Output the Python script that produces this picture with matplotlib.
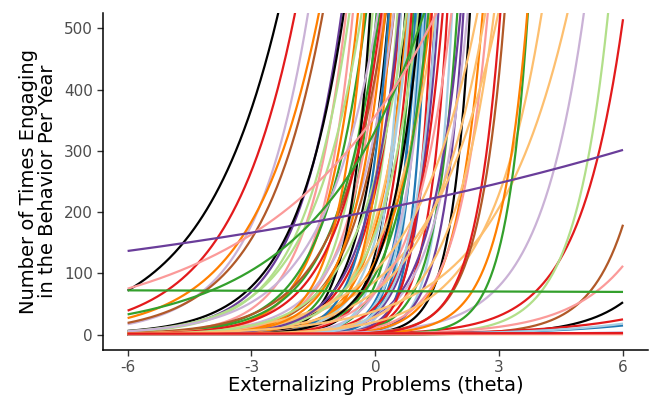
import matplotlib.pyplot as plt
import numpy as np

# expected count per item: mu(theta) = exp(log_mu0 + slope * theta)
log_mu0 = [
    # steep items in the middle
    7.015, 6.912, 7.040, 6.827, 6.969, 6.767, 6.527, 6.485, 6.355, 6.215,
    6.167, 5.780, 5.764, 5.348, 5.461, 4.885, 5.165, 5.231, 4.415, 3.745,
    4.015, 3.275, 3.575, 3.915, 2.615, 4.247, 2.926, 3.515, 3.815, 2.603,
    1.615, 2.491, 3.373, 1.995, 3.355, 1.221, 2.103, 2.449, 3.385, 4.475,
    6.035, 5.515, 4.775, 5.815, 4.770, 5.045, 4.785, 6.515, 4.955, 2.705,
    5.675, 6.045, 4.590, 4.265, 5.115, 6.665, 6.215, 4.235, 4.655, 4.745,
    6.115, 5.550, 5.955, 5.527, 3.605,
    # items that are already common at low theta
    7.545, 7.508, 7.542, 7.137, 7.153,
    # items that only rise at high theta
    0.604, -0.729, 1.615, 3.039, 3.656, -0.758, 0.740, 1.255, 1.115,
    -1.830, 0.372, -1.610, 0.219, 0.008, -0.110, -0.100,
    # near-zero items
    -0.500, 0.200, 0.500, 0.700,
    # flat-ish items
    5.808, 5.878, 5.313, 4.263,
]
slope = [
    0.92, 0.85, 1.10, 0.90, 1.30, 1.20, 0.80, 1.00, 1.40, 1.60,
    0.95, 1.50, 1.10, 1.70, 1.30, 1.90, 1.40, 1.20, 2.00, 2.60,
    2.20, 2.80, 2.40, 2.00, 3.00, 1.60, 2.30, 1.80, 1.50, 2.10,
    2.50, 1.90, 1.40, 2.00, 1.30, 2.20, 1.60, 1.40, 1.00, 0.60,
    1.20, 2.00, 2.40, 1.00, 1.70, 1.50, 1.10, 2.00, 0.90, 2.60,
    1.80, 0.85, 1.30, 0.75, 1.10, 1.50, 0.75, 1.10, 0.65, 1.40,
    1.00, 0.95, 1.30, 1.25, 1.80,
    0.545, 0.640, 0.785, 0.640, 0.700,
    0.94, 1.24, 0.92, 0.80, 0.56, 1.90, 1.50, 1.60, 1.70,
    1.17, 0.725, 0.93, 0.50, 0.45, 0.50, 0.20,
    0.05, 0.02, 0.00, 0.04,
    0.385, 0.26, 0.066, -0.003,
]
item_color = [
    "pu", "k", "p", "lg", "p", "o", "lg", "g", "lg", "g",
    "g", "k", "br", "lg", "r", "k", "o", "lo", "g", "b",
    "b", "lb", "b", "lb", "b", "lp", "pu", "pu", "r", "r",
    "lb", "g", "pu", "pu", "lp", "k", "o", "p", "lo", "lo",
    "p", "o", "lb", "lp", "r", "lb", "o", "k", "lo", "r",
    "b", "br", "g", "lo", "lg", "o", "lp", "p", "lo", "k",
    "r", "lg", "o", "pu", "lb",
    "k", "r", "lp", "o", "br",
    "r", "lg", "lp", "lo", "lo", "g", "o", "br", "r",
    "br", "p", "k", "r", "b", "lb", "pu",
    "lo", "o", "p", "r",
    "g", "p", "pu", "g",
]

palette = {
    "k": "#000000", "r": "#E31A1C", "o": "#FF7F00", "lo": "#FDBF6F",
    "g": "#33A02C", "lg": "#B2DF8A", "p": "#FB9A99", "lp": "#CAB2D6",
    "pu": "#6A3D9A", "br": "#B15928", "b": "#1F78B4", "lb": "#A6CEE3",
}

plt.rcParams["font.family"] = ["DejaVu Sans"]
plt.rcParams["axes.unicode_minus"] = False

theta = np.linspace(-6, 6, 601)

fig = plt.figure(figsize=(6.55, 3.95), dpi=100)
ax = fig.add_axes([0.157, 0.114, 0.832, 0.853])

for a, b, c in zip(log_mu0, slope, item_color):
    ax.plot(theta, np.exp(a + b * theta), color=palette[c], lw=1.6,
            solid_capstyle="butt")

ax.set_xlim(-6.6, 6.6)
ax.set_ylim(-25, 525)
ax.set_xticks([-6, -3, 0, 3, 6])
ax.set_yticks([0, 100, 200, 300, 400, 500])

for side in ["top", "right"]:
    ax.spines[side].set_visible(False)
for side in ["left", "bottom"]:
    ax.spines[side].set_linewidth(1.1)

ax.tick_params(axis="both", length=4, width=1.0, color="#333333",
               labelcolor="#4D4D4D", labelsize=11, pad=3)

ax.set_xlabel("Externalizing Problems (theta)", fontsize=14, labelpad=1)
ax.set_ylabel("Number of Times Engaging\nin the Behavior Per Year",
              fontsize=14, labelpad=5, linespacing=1.0)

fig.savefig("out.png", dpi=100)
